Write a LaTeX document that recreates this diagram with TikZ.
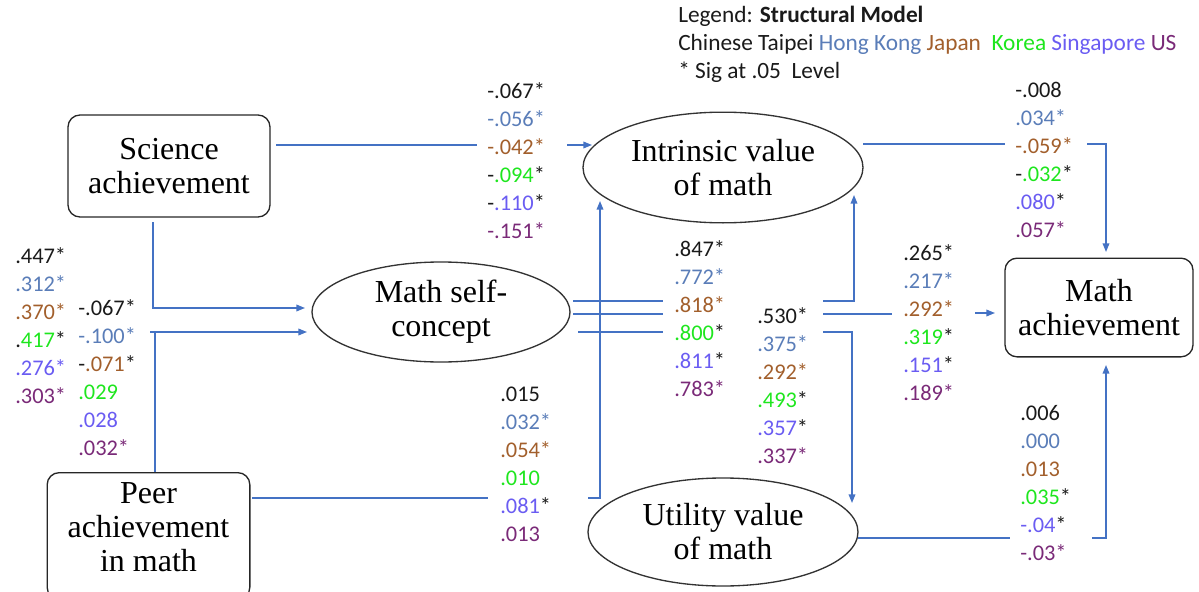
\documentclass[tikz,border=0pt]{standalone}
\usepackage{fontspec}
\setmainfont{Liberation Serif}
\newfontfamily\labfont{Carlito}
\usetikzlibrary{arrows.meta,shapes.geometric}
\definecolor{lineblue}{HTML}{4472C4}
\definecolor{cT}{HTML}{1A1A1A}
\definecolor{cH}{HTML}{5A7DB8}
\definecolor{cJ}{HTML}{A25F2C}
\definecolor{cK}{HTML}{1EE61E}
\definecolor{cS}{HTML}{6A5CF2}
\definecolor{cU}{HTML}{7A2A78}
\newcommand\colHK[1]{\textcolor{cH}{#1}}
\newcommand\colJP[1]{\textcolor{cJ}{#1}}
\newcommand\colKR[1]{\textcolor{cK}{#1}}
\newcommand\colSG[1]{\textcolor{cS}{#1}}
\newcommand\colUS[1]{\textcolor{cU}{#1}}
\newcommand\nodefont{\fontsize{24}{25.5}\selectfont}
\begin{document}
\begin{tikzpicture}[x=0.75pt,y=-0.75pt,
  conn/.style={draw=lineblue, line width=1.1pt},
  arr/.style={-{Triangle[length=6.5pt,width=5pt]}},
  boxnode/.style={draw=black!85, line width=1pt, rounded corners=9pt, align=center, font=\nodefont, inner sep=0},
  ellnode/.style={draw=black!80, line width=1pt, ellipse, align=center, font=\nodefont, inner sep=0},
  lab/.style={font=\labfont\fontsize{16.8}{21}\selectfont, text=cT, align=left, inner sep=0, anchor=north west},
]
\useasboundingbox (0,0) rectangle (1199,592);

% nodes
\node[boxnode, minimum width=151.5pt, minimum height=76.5pt] (sci) at (169,166) {Science\\achievement};
\node[boxnode, minimum width=152pt, minimum height=95pt] (peer) at (148.5,536) {Peer\\achievement\\in math\rule[-14pt]{0pt}{0pt}};
\node[ellnode, minimum width=193.5pt, minimum height=75pt] (self) at (441,312) {Math self-\\concept};
\node[ellnode, minimum width=210pt, minimum height=83pt] (intr) at (723,167.5) {Intrinsic value\\of math};
\node[ellnode, minimum width=202.5pt, minimum height=81pt] (util) at (723,532) {Utility value\\of math};
\node[boxnode, minimum width=141pt, minimum height=74pt] (math) at (1099,307.5) {Math\\achievement};

% legend
\node[anchor=north west, inner sep=0, align=left, text=cT, font=\labfont\fontsize{17.5}{21}\selectfont] (legend) at (678,6)
 {Legend: \textbf{Structural Model}\\
  Chinese Taipei \colHK{Hong Kong} \colJP{Japan}\ \ \colKR{Korea} \colSG{Singapore} \colUS{US}\\
  * Sig at .05\ \ Level};

% connectors
% science -> intrinsic
\coordinate (si0) at (276,145);
\coordinate (si1) at (477,145);
\coordinate (si2) at (567,145);
\coordinate (si3) at (592,145);
\draw[conn] (si0) -- (si1);
\draw[conn,arr] (si2) -- (si3);
% science -> self
\coordinate (ss0) at (153,222);
\coordinate (ss1) at (153,308);
\coordinate (ss2) at (305,308);
\draw[conn,arr] (ss0) -- (ss1) -- (ss2);
% peer -> self
\coordinate (ps0) at (155,472);
\coordinate (ps1) at (155,332);
\coordinate (ps2) at (150,332);
\coordinate (ps3) at (307,332);
\draw[conn] (ps0) -- (ps1);
\draw[conn,arr] (ps2) -- (ps3);
% peer -> intrinsic
\coordinate (pi0) at (252,498);
\coordinate (pi1) at (488,498);
\coordinate (pi2) at (588,498);
\coordinate (pi3) at (600,498);
\coordinate (pi4) at (600,201);
\draw[conn] (pi0) -- (pi1);
\draw[conn,arr] (pi2) -- (pi3) -- (pi4);
% self -> intrinsic
\coordinate (sn0) at (573,301);
\coordinate (sn1) at (663,301);
\coordinate (sn2) at (823,301);
\coordinate (sn3) at (854,301);
\coordinate (sn4) at (854,195);
\draw[conn] (sn0) -- (sn1);
\draw[conn,arr] (sn2) -- (sn3) -- (sn4);
% self -> math
\coordinate (sm0) at (573,314);
\coordinate (sm1) at (663,314);
\coordinate (sm2) at (823,314);
\coordinate (sm3) at (892,314);
\coordinate (sm4) at (975,313);
\coordinate (sm5) at (995,313);
\draw[conn] (sm0) -- (sm1);
\draw[conn] (sm2) -- (sm3);
\draw[conn,arr] (sm4) -- (sm5);
% self -> utility
\coordinate (su0) at (578,332);
\coordinate (su1) at (663,332);
\coordinate (su2) at (823,332);
\coordinate (su3) at (852,332);
\coordinate (su4) at (852,503);
\draw[conn] (su0) -- (su1);
\draw[conn,arr] (su2) -- (su3) -- (su4);
% intrinsic -> math
\coordinate (im0) at (863,144);
\coordinate (im1) at (1005,144);
\coordinate (im2) at (1087,144);
\coordinate (im3) at (1106,144);
\coordinate (im4) at (1106,252);
\draw[conn] (im0) -- (im1);
\draw[conn,arr] (im2) -- (im3) -- (im4);
% utility -> math
\coordinate (um0) at (858,538);
\coordinate (um1) at (1010,538);
\coordinate (um2) at (1092,538);
\coordinate (um3) at (1106,538);
\coordinate (um4) at (1106,365);
\draw[conn] (um0) -- (um1);
\draw[conn,arr] (um2) -- (um3) -- (um4);

% labels
\node[lab] (lA) at (15,247.5) {.447*\\ \colHK{.312*}\\ \colJP{.370*}\\ .\colKR{417}*\\ \colSG{.276*}\\ \colUS{.303*}};
\node[lab] (lB) at (78,299.5) {-.067*\\ \colHK{-.100*}\\ -\colJP{.071}*\\ \colKR{.029}\\ \colSG{.028}\\ \colUS{.032*}};
\node[lab] (lC) at (487,82.5) {-.067*\\ \colHK{-.056*}\\ \colJP{-.042*}\\ -\colKR{.094}*\\ -\colSG{.110}*\\ \colUS{-.151*}};
\node[lab] (lD) at (674,240.5) {.847*\\ \colHK{.772*}\\ \colJP{.818*}\\ \colKR{.800}*\\ \colSG{.811}*\\ \colUS{.783*}};
\node[lab] (lE) at (757,307.5) {.530*\\ \colHK{.375*}\\ \colJP{.292*}\\ \colKR{.493}*\\ \colSG{.357}*\\ \colUS{.337*}};
\node[lab] (lF) at (903,244.5) {.265*\\ \colHK{.217*}\\ \colJP{.292*}\\ \colKR{.319}*\\ \colSG{.151}*\\ \colUS{.189*}};
\node[lab] (lG) at (1015,82) {-.008\\ \colHK{.034*}\\ \colJP{-.059*}\\ -\colKR{.032}*\\ \colSG{.080}*\\ \colUS{.057*}};
\node[lab] (lH) at (500,386.5) {.015\\ \colHK{.032*}\\ \colJP{.054*}\\ \colKR{.010}\\ \colSG{.081}*\\ \colUS{.013}};
\node[lab] (lI) at (1020,405.5) {.006\\ \colHK{.000}\\ \colJP{.013}\\ \colKR{.035}*\\ \colSG{-.04}*\\ \colUS{-.03*}};
\end{tikzpicture}
\end{document}
